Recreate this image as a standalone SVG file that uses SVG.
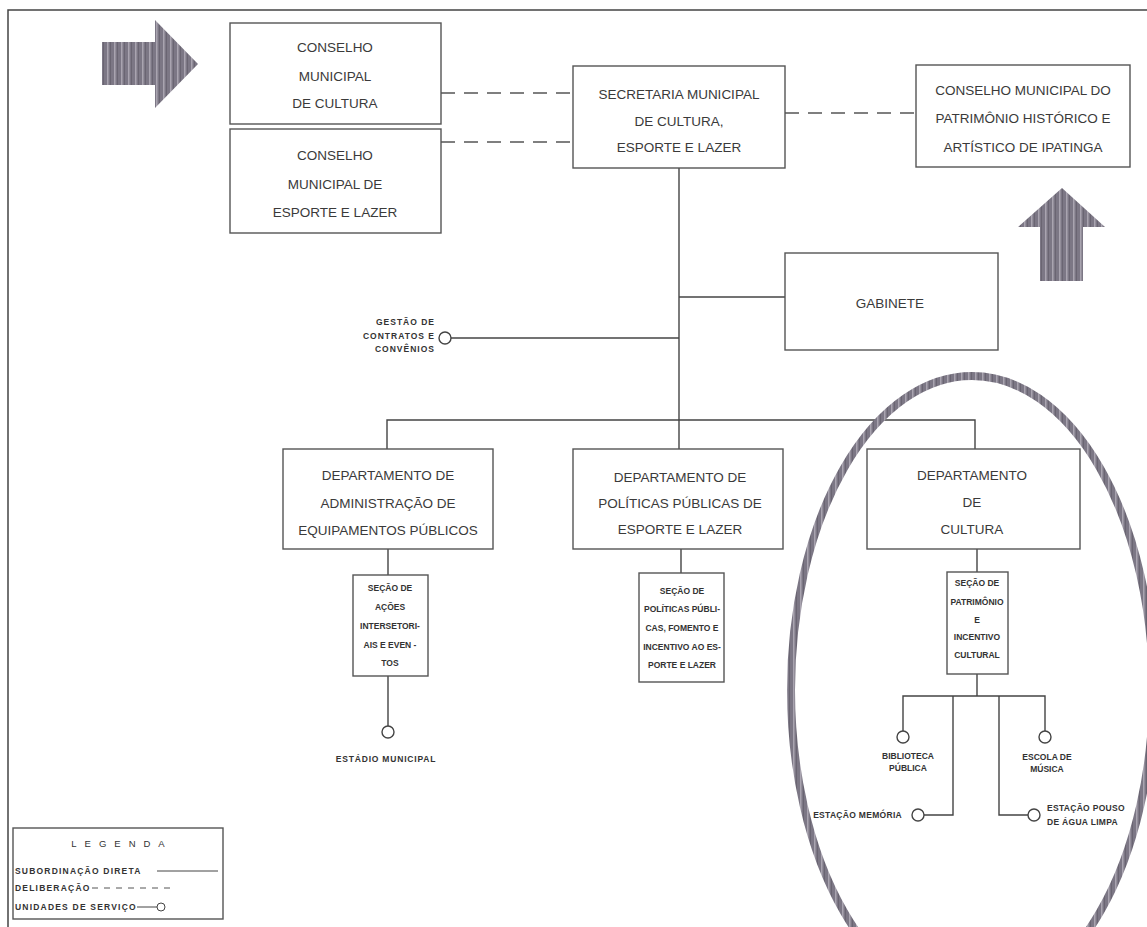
<svg xmlns="http://www.w3.org/2000/svg" width="1147" height="927" viewBox="0 0 1147 927">
<defs>
<pattern id="stripes" patternUnits="userSpaceOnUse" width="7" height="4">
<rect width="7" height="4" fill="#7c7785"/>
<rect x="2" width="1.5" height="4" fill="#a9a4b0"/>
<rect x="5" width="1" height="4" fill="#6a6572"/>
</pattern>
<style>
.box{fill:#fff;stroke:#555;stroke-width:1.4}
.t{font-family:"Liberation Sans",Arial,sans-serif;font-size:13.5px;fill:#3a3a3a;text-anchor:middle;dominant-baseline:central}
.s{font-family:"Liberation Sans",Arial,sans-serif;font-size:8.5px;font-weight:bold;fill:#333;text-anchor:middle;dominant-baseline:central}
.ln{stroke:#444;stroke-width:1.4;fill:none}
.dash{stroke:#555;stroke-width:1.4;fill:none;stroke-dasharray:14 9}
.unit{fill:#fff;stroke:#444;stroke-width:1.4}
</style>
</defs>
<rect x="0" y="0" width="1147" height="927" fill="#fff"/>
<path d="M8 927 V10 H1147" fill="none" stroke="#444" stroke-width="1.5"/>

<g id="arrow-left"><polygon points="102,42 155,42 155,20 198,64 155,108 155,85 102,85" fill="url(#stripes)"/></g>
<g id="arrow-up"><polygon points="1062,188 1105,227 1083,227 1083,281 1040,281 1040,227 1018,227" fill="url(#stripes)"/></g>

<g id="connectors">
<line class="dash" x1="441" y1="93" x2="573" y2="93"/>
<line class="dash" x1="441" y1="142" x2="573" y2="142"/>
<line class="dash" x1="785" y1="113" x2="916" y2="113"/>
<line class="ln" x1="679" y1="168" x2="679" y2="449"/>
<line class="ln" x1="679" y1="297" x2="785" y2="297"/>
<line class="ln" x1="451" y1="338" x2="679" y2="338"/>
<polyline class="ln" points="387,449 387,420 975,420 975,449"/>
<line class="ln" x1="388" y1="549" x2="388" y2="575"/>
<line class="ln" x1="388" y1="676" x2="388" y2="726"/>
<line class="ln" x1="681" y1="549" x2="681" y2="573"/>
<line class="ln" x1="977" y1="549" x2="977" y2="572"/>
<line class="ln" x1="977" y1="674" x2="977" y2="696"/>
<polyline class="ln" points="903,731 903,696 1045,696 1045,731"/>
<polyline class="ln" points="953,696 953,815 924,815"/>
<polyline class="ln" points="999,696 999,815 1028,815"/>
</g>

<g id="conselho-cultura"><rect class="box" x="230" y="23" width="211" height="101"/>
<text class="t" x="335" y="47">CONSELHO</text><text class="t" x="335" y="76">MUNICIPAL</text><text class="t" x="335" y="103">DE  CULTURA</text></g>
<g id="conselho-esporte"><rect class="box" x="230" y="129" width="211" height="104"/>
<text class="t" x="335" y="155">CONSELHO</text><text class="t" x="335" y="184">MUNICIPAL DE</text><text class="t" x="335" y="212">ESPORTE E LAZER</text></g>
<g id="secretaria"><rect class="box" x="573" y="66" width="212" height="102"/>
<text class="t" x="679" y="94">SECRETARIA MUNICIPAL</text><text class="t" x="679" y="121">DE CULTURA,</text><text class="t" x="679" y="147">ESPORTE E LAZER</text></g>
<g id="conselho-patrimonio"><rect class="box" x="916" y="65" width="214" height="102"/>
<text class="t" x="1023" y="90">CONSELHO MUNICIPAL  DO</text><text class="t" x="1023" y="118">PATRIMÔNIO HISTÓRICO E</text><text class="t" x="1023" y="147">ARTÍSTICO DE IPATINGA</text></g>
<g id="gabinete"><rect class="box" x="785" y="253" width="213" height="97"/>
<text class="t" x="890" y="303">GABINETE</text></g>
<g id="gestao"><circle class="unit" cx="445" cy="338" r="6"/>
<text class="s" x="435" y="322" text-anchor="end" style="text-anchor:end;letter-spacing:1px">GESTÃO DE</text>
<text class="s" x="435" y="336" style="text-anchor:end;letter-spacing:1px">CONTRATOS E</text>
<text class="s" x="435" y="349" style="text-anchor:end;letter-spacing:1px">CONVÊNIOS</text></g>

<g id="dep-admin"><rect class="box" x="283" y="449" width="210" height="100"/>
<text class="t" x="388" y="475">DEPARTAMENTO  DE</text><text class="t" x="388" y="503">ADMINISTRAÇÃO  DE</text><text class="t" x="388" y="530">EQUIPAMENTOS PÚBLICOS</text></g>
<g id="secao-acoes"><rect class="box" x="353" y="575" width="75" height="101"/>
<text class="s" x="390" y="588">SEÇÃO DE</text><text class="s" x="390" y="607">AÇÕES</text><text class="s" x="390" y="626">INTERSETORI-</text><text class="s" x="390" y="645">AIS E EVEN -</text><text class="s" x="390" y="663">TOS</text></g>
<g id="estadio"><circle class="unit" cx="388" cy="732" r="6"/>
<text class="s" x="386" y="759" style="letter-spacing:0.8px">ESTÁDIO MUNICIPAL</text></g>

<g id="dep-politicas"><rect class="box" x="573" y="449" width="210" height="100"/>
<text class="t" x="680" y="477">DEPARTAMENTO  DE</text><text class="t" x="680" y="503">POLÍTICAS  PÚBLICAS  DE</text><text class="t" x="680" y="529">ESPORTE  E  LAZER</text></g>
<g id="secao-politicas"><rect class="box" x="639" y="573" width="85" height="109"/>
<text class="s" x="682" y="591">SEÇÃO DE</text><text class="s" x="682" y="609">POLÍTICAS PÚBLI-</text><text class="s" x="682" y="628">CAS, FOMENTO E</text><text class="s" x="682" y="647">INCENTIVO AO ES-</text><text class="s" x="682" y="665">PORTE E LAZER</text></g>

<g id="dep-cultura"><rect class="box" x="867" y="449" width="213" height="100"/>
<text class="t" x="972" y="475">DEPARTAMENTO</text><text class="t" x="972" y="502">DE</text><text class="t" x="972" y="529">CULTURA</text></g>
<g id="secao-patrimonio"><rect class="box" x="947" y="572" width="61" height="102"/>
<text class="s" x="977" y="583">SEÇÃO DE</text><text class="s" x="977" y="602">PATRIMÔNIO</text><text class="s" x="977" y="620">E</text><text class="s" x="977" y="637">INCENTIVO</text><text class="s" x="977" y="655">CULTURAL</text></g>
<g id="biblioteca"><circle class="unit" cx="903" cy="737" r="6"/>
<text class="s" x="908" y="756">BIBLIOTECA</text><text class="s" x="908" y="768">PÚBLICA</text></g>
<g id="escola"><circle class="unit" cx="1045" cy="737" r="6"/>
<text class="s" x="1047" y="757">ESCOLA DE</text><text class="s" x="1047" y="769">MÚSICA</text></g>
<g id="estacao-memoria"><circle class="unit" cx="918" cy="815" r="6"/>
<text class="s" x="902" y="815" style="text-anchor:end;letter-spacing:0.3px">ESTAÇÃO MEMÓRIA</text></g>
<g id="estacao-pouso"><circle class="unit" cx="1034" cy="815" r="6"/>
<text class="s" x="1047" y="808" style="text-anchor:start;letter-spacing:0.3px">ESTAÇÃO POUSO</text>
<text class="s" x="1047" y="822" style="text-anchor:start;letter-spacing:0.3px">DE ÁGUA LIMPA</text></g>

<g id="highlight"><ellipse cx="972" cy="690" rx="181" ry="314" fill="none" stroke="url(#stripes)" stroke-width="8"/></g>

<g id="legenda"><rect class="box" x="13" y="828" width="210" height="91"/>
<text class="s" x="122" y="843" style="letter-spacing:8px;font-weight:normal;font-size:9.5px">LEGENDA</text>
<text class="s" x="15" y="871" style="text-anchor:start;letter-spacing:1.2px">SUBORDINAÇÃO DIRETA</text>
<line class="ln" x1="157" y1="871" x2="218" y2="871" style="stroke-width:1"/>
<text class="s" x="15" y="888" style="text-anchor:start;letter-spacing:1.2px">DELIBERAÇÃO</text>
<line class="dash" x1="92" y1="888" x2="172" y2="888" style="stroke-dasharray:6 6;stroke-width:1"/>
<text class="s" x="15" y="907" style="text-anchor:start;letter-spacing:1.2px">UNIDADES DE SERVIÇO</text>
<line class="ln" x1="137" y1="907" x2="157" y2="907" style="stroke-width:1"/>
<circle class="unit" cx="161" cy="907" r="4" style="stroke-width:1"/></g>
</svg>
